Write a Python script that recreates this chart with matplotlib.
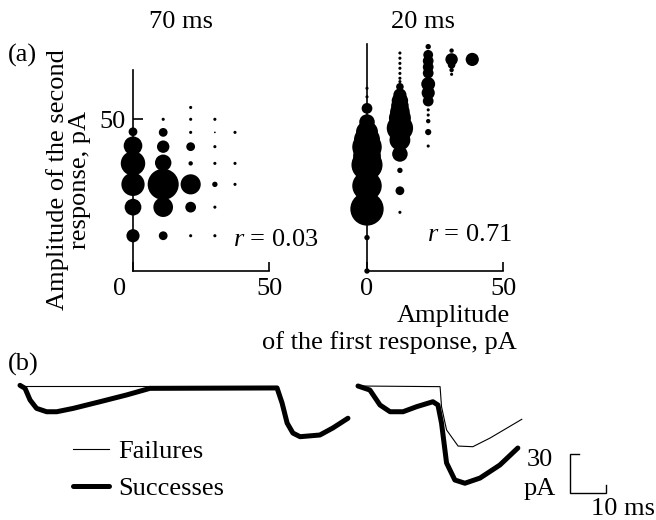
import matplotlib
matplotlib.use("Agg")
import matplotlib.pyplot as plt
import numpy as np
from matplotlib.transforms import ScaledTranslation

# ---------------- data ----------------
# Panel (a), 70 ms interval: column (first amplitude), second amplitude, count
left_x = [0, 0, 0, 0, 0, 0,
          11.1, 11.1, 11.1, 11.1, 11.1, 11.1, 11.1,
          21.2, 21.2, 21.2, 21.2, 21.2, 21.2, 21.2, 21.2,
          30.1, 30.1, 30.1, 30.1, 30.1, 30.1, 30.1,
          37.5, 37.5, 37.5]
left_y = [45.8, 41.2, 35.4, 28.5, 21.0, 11.6,
          49.9, 45.6, 40.9, 35.6, 28.5, 21.0, 11.6,
          53.8, 49.9, 45.6, 40.9, 35.4, 28.5, 21.0, 11.6,
          49.9, 45.6, 40.9, 35.4, 28.5, 21.0, 11.6,
          45.6, 35.4, 28.5]
left_n = [8, 36, 62, 56, 29, 18,
          1, 8, 16, 28, 100, 40, 8,
          1, 1, 1, 8, 2, 42, 12, 1,
          1, 0.3, 1, 1, 3, 1, 1,
          1, 1, 1]

# Panel (a), 20 ms interval
right_x = [0] * 13 + [12.1] * 19 + [22.5] * 13 + [31.1] * 5 + [38.7]
right_y = [60.1, 57.3, 53.5, 49.0, 45.7, 43.2, 40.8, 37.8, 34.9, 28.0,
           20.4, 11.0, 0.0,
           71.7, 70.0, 68.3, 66.7, 65.0, 63.4, 62.3, 60.6, 57.9, 56.0, 54.3,
           52.3, 50.3, 47.0, 43.1, 38.5, 33.1, 26.4, 19.3,
           73.8, 71.1, 69.1, 67.1, 65.1, 61.5, 58.6, 55.9, 53.0, 51.3, 49.3,
           45.7, 41.1,
           72.5, 69.6, 67.8, 66.1, 64.7,
           69.6]
right_n = [1, 1, 12, 25, 50, 70, 90, 80, 100, 90, 115, 3, 3,
           1, 1, 1, 1, 1, 1, 1, 6, 18, 28, 32, 40, 50, 72, 45, 25, 3, 8, 1,
           3, 10, 12, 12, 12, 20, 18, 12, 1, 1, 2, 4, 1,
           2, 16, 6, 2, 1,
           18]

r_values = ["0.03", "0.71"]
intervals = ["70 ms", "20 ms"]

# Panel (b): traces, time (ms) and current (pA, relative to baseline)
t70_succ = [0, 1.4, 2.8, 4.6, 7.4, 10.2, 14.8, 22.2, 29.6, 36.1, 71.4,
            72.8, 74.2, 75.8, 77.8, 83.3, 86.9, 91.1]
i70_succ = [0.5, -1.8, -10.8, -17.2, -19.8, -19.8, -17.2, -12.1, -6.9, -1.8,
            -1.5, -13.1, -28.5, -36.2, -39.0, -37.7, -32.3, -24.8]
t70_fail = [0, 36.1]
i70_fail = [0, 0]

t20_succ = [0, 3.3, 6.1, 8.9, 12.5, 16.3, 20.8, 22.2, 23.2, 24.6, 26.9,
            29.7, 33.9, 39.4, 44.4]
i20_succ = [0, -3.1, -14.6, -19.8, -19.8, -15.9, -12.1, -14.6, -28.5,
            -59.2, -72.3, -74.8, -70.8, -60.8, -47.7]
t20_fail = [0, 22.8, 23.2, 24.6, 27.8, 31.9, 36.7, 45.5]
i20_fail = [0, -0.5, -15.9, -33.8, -46.2, -46.7, -40.0, -25.6]

legend_labels = ["Failures", "Successes"]

# ---------------- style ----------------
plt.rcParams['font.family'] = ['Liberation Serif', 'DejaVu Serif']
plt.rcParams['mathtext.fontset'] = 'custom'
plt.rcParams['mathtext.it'] = 'Liberation Serif:italic'
plt.rcParams['mathtext.rm'] = 'Liberation Serif'
FS = 19

W, H = 656, 520
fig = plt.figure(figsize=(W / 100, H / 100), dpi=100)


def fpos(x, y):
    return x / W, 1 - y / H


def axrect(x0, y_top, x1, y_bot):
    return [x0 / W, 1 - y_bot / H, (x1 - x0) / W, (y_bot - y_top) / H]


YSCALE = 3.04  # px per pA
SIZE_K = 5.0   # pt^2 per count

ax1 = fig.add_axes(axrect(133, 70, 269, 271))
ax2 = fig.add_axes(axrect(367, 44, 503, 271))
ax1.set_ylim(0, (271 - 70) / YSCALE)
ax2.set_ylim(0, (271 - 44) / YSCALE)

for ax, xs, ys, ns, r in [(ax1, left_x, left_y, left_n, r_values[0]),
                          (ax2, right_x, right_y, right_n, r_values[1])]:
    ax.scatter(xs, ys, s=np.array(ns) * SIZE_K, c='black', linewidths=0,
               clip_on=False, zorder=3)
    ax.set_xlim(0, 50)
    ax.patch.set_alpha(0)
    for sp in ['top', 'right']:
        ax.spines[sp].set_visible(False)
    for sp in ['left', 'bottom']:
        ax.spines[sp].set_linewidth(1.2)
    ax.set_xticks([0, 50])
    ax.set_xticklabels(['0', '50'])
    ax.tick_params(axis='x', direction='in', length=6.5, width=1.2,
                   labelsize=FS, pad=5)
    ax.tick_params(axis='y', direction='in', length=7, width=1.2,
                   labelsize=FS, pad=5)

ax1.set_yticks([50])
ax1.set_yticklabels(['50'])
ax2.set_yticks([])

# shift left "0" tick label
lab0 = ax1.get_xticklabels()[0]
lab0.set_transform(lab0.get_transform() +
                   ScaledTranslation(-13 / 100, 0, fig.dpi_scale_trans))

fig.text(*fpos(181, 22), intervals[0], fontsize=FS, ha='center', va='center')
fig.text(*fpos(423, 22), intervals[1], fontsize=FS, ha='center', va='center')
fig.text(*fpos(8, 55), "(a)", fontsize=FS, ha='left', va='center')
fig.text(*fpos(69, 180), "Amplitude of the second\nresponse, pA", fontsize=FS,
         ha='center', va='center', rotation=90, linespacing=1.0)
fig.text(*fpos(318, 240), r"$r$ = " + r_values[0], fontsize=FS, ha='right',
         va='center')
fig.text(*fpos(512, 235), r"$r$ = " + r_values[1], fontsize=FS, ha='right',
         va='center')
fig.text(*fpos(510, 316), "Amplitude", fontsize=FS, ha='right', va='center')
fig.text(*fpos(517, 343), "of the first response, pA", fontsize=FS,
         ha='right', va='center')
fig.text(*fpos(8, 364), "(b)", fontsize=FS, ha='left', va='center')

# ---------------- panel (b) ----------------
TPX = 3.6   # px per ms
IPX = 1.3   # px per pA
axb = fig.add_axes(axrect(0, 360, W, H))
axb.set_xlim(-20 / TPX, (W - 20) / TPX)
axb.set_ylim(-(H - 386) / IPX, (386 - 360) / IPX)
axb.axis('off')
axb.patch.set_alpha(0)

offset20 = (358 - 20) / TPX
lf, = axb.plot(t70_fail, i70_fail, color='black', lw=0.8,
               label=legend_labels[0])
axb.plot(np.array(t20_fail) + offset20, i20_fail, color='black', lw=0.8)
ls, = axb.plot(t70_succ, i70_succ, color='black', lw=3.6,
               solid_capstyle='round', solid_joinstyle='round',
               label=legend_labels[1])
axb.plot(np.array(t20_succ) + offset20, i20_succ, color='black', lw=3.6,
         solid_capstyle='round', solid_joinstyle='round')

leg = axb.legend(handles=[lf, ls], loc='upper left', frameon=False,
                 fontsize=FS, handlelength=1.35, handletextpad=0.35,
                 labelspacing=0.5, borderpad=0, borderaxespad=0,
                 bbox_to_anchor=fpos(73, 440), bbox_transform=fig.transFigure)

# scale bar (30 pA, 10 ms)
sb_t = (569.5 - 20) / TPX
sb_top = -(453.5 - 386) / IPX
sb_bot = sb_top - 30
axb.plot([sb_t + 2.5, sb_t, sb_t, sb_t + 10, sb_t + 10],
         [sb_top, sb_top, sb_bot, sb_bot, sb_bot + 6],
         color='black', lw=1.0, solid_joinstyle='miter')
fig.text(*fpos(540, 460), "30", fontsize=FS, ha='center', va='center')
fig.text(*fpos(540, 489), "pA", fontsize=FS, ha='center', va='center')
fig.text(*fpos(623, 509), "10 ms", fontsize=FS, ha='center', va='center')

fig.savefig("out.png", dpi=100)
